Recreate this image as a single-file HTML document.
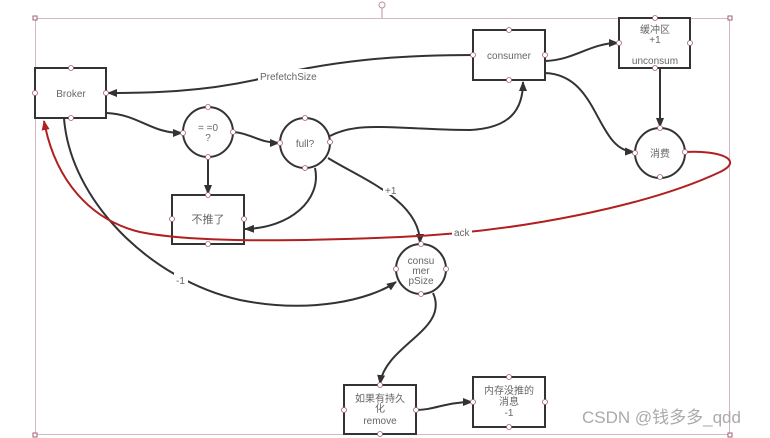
<!DOCTYPE html>
<html><head><meta charset="utf-8"><style>
html,body{margin:0;padding:0;background:#fff;width:770px;height:438px;overflow:hidden}
svg{display:block}
text{font-family:"Liberation Sans","Noto Sans CJK SC",sans-serif;fill:#666;font-size:10px}
</style></head><body>
<svg width="770" height="438" viewBox="0 0 770 438" xmlns="http://www.w3.org/2000/svg">
<defs>
<marker id="a" markerWidth="10" markerHeight="8" refX="9" refY="4" orient="auto" markerUnits="userSpaceOnUse"><path d="M0,0 L10,4 L0,8z" fill="#333"/></marker>
<marker id="r" markerWidth="10" markerHeight="8" refX="9" refY="4" orient="auto" markerUnits="userSpaceOnUse"><path d="M0,0 L10,4 L0,8z" fill="#b02020"/></marker>
</defs>
<rect x="35.5" y="18.5" width="694" height="416" fill="none" stroke="#d8b8c0" stroke-width="1"/>
<line x1="382" y1="8" x2="382" y2="18" stroke="#c09098"/>
<circle cx="382" cy="5" r="3" fill="#fff" stroke="#c09098"/>
<rect x="33" y="16" width="4" height="4" fill="#fff" stroke="#a06070"/>
<rect x="728" y="16" width="4" height="4" fill="#fff" stroke="#a06070"/>
<rect x="33" y="433" width="4" height="4" fill="#fff" stroke="#a06070"/>
<rect x="728" y="433" width="4" height="4" fill="#fff" stroke="#a06070"/>

<g fill="none" stroke="#333" stroke-width="2">
<path d="M473,55 C400,55 330,60 255,80 C200,92 150,93 108,93" marker-end="url(#a)"/>
<path d="M107,113 C140,115 150,133 182,133" marker-end="url(#a)"/>
<path d="M233,132 C250,133 260,143 279,143" marker-end="url(#a)"/>
<path d="M208,157 L208,194" marker-end="url(#a)"/>
<path d="M315,168 C322,200 290,228 245,229" marker-end="url(#a)"/>
<path d="M330,136 C360,120 400,130 470,130 C510,128 523,110 523,82" marker-end="url(#a)"/>
<path d="M328,158 C360,178 420,200 420,243" marker-end="url(#a)"/>
<path d="M64,118 C70,200 150,280 240,300 C310,314 370,300 396,282" marker-end="url(#a)"/>
<path d="M545,61 C575,60 590,43 618,43" marker-end="url(#a)"/>
<path d="M545,73 C600,75 595,150 634,152" marker-end="url(#a)"/>
<path d="M660,68 L660,127" marker-end="url(#a)"/>
<path d="M433,293 C450,330 385,345 380,384" marker-end="url(#a)"/>
<path d="M416,410 C435,410 445,402 472,402" marker-end="url(#a)"/>
</g>
<rect x="258" y="69" width="64" height="12" fill="#fff"/>
<text x="260" y="80">PrefetchSize</text>
<rect x="383" y="183" width="16" height="12" fill="#fff"/>
<text x="385" y="194">+1</text>
<rect x="174" y="273" width="14" height="12" fill="#fff"/>
<text x="176" y="284">-1</text>

<g fill="#fff" stroke="#333" stroke-width="2">
<rect x="35" y="68" width="71" height="50"/>
<circle cx="208" cy="132" r="25"/>
<circle cx="305" cy="143" r="25"/>
<rect x="172" y="195" width="72" height="49"/>
<rect x="473" y="30" width="72" height="50"/>
<rect x="619" y="18" width="71" height="50"/>
<circle cx="660" cy="153" r="25"/>
<circle cx="421" cy="269" r="25"/>
<rect x="344" y="385" width="72" height="49"/>
<rect x="473" y="377" width="72" height="50"/>
</g>
<path d="M685,152 C720,150 745,160 720,172 C650,205 520,232 400,237 C280,242 190,242 140,232 C90,220 55,180 44,121" fill="none" stroke="#b02020" stroke-width="2" marker-end="url(#r)"/>
<rect x="452" y="226" width="20" height="12" fill="#fff"/>
<text x="454" y="236">ack</text>
<g text-anchor="middle">
<text x="71" y="97">Broker</text>
<text x="208" y="131">= =0</text><text x="208" y="141">?</text>
<text x="305" y="147">full?</text>
<text x="208" y="223" style="font-size:11px">不推了</text>
<text x="509" y="59">consumer</text>
<text x="655" y="33">缓冲区</text><text x="655" y="43">+1</text><text x="655" y="64">unconsum</text>
<text x="660" y="157">消费</text>
<text x="421" y="264">consu</text><text x="421" y="274">mer</text><text x="421" y="284">pSize</text>
<text x="380" y="402">如果有持久</text><text x="380" y="412">化</text><text x="380" y="424">remove</text>
<text x="509" y="394">内存没推的</text><text x="509" y="405">消息</text><text x="509" y="416">-1</text>
</g>
<g fill="#fff" stroke="#a06070" stroke-width="0.8">
<circle cx="71" cy="68" r="2.5"/><circle cx="35" cy="93" r="2.5"/><circle cx="106" cy="93" r="2.5"/><circle cx="71" cy="118" r="2.5"/>
<circle cx="208" cy="107" r="2.5"/><circle cx="183" cy="133" r="2.5"/><circle cx="233" cy="132" r="2.5"/><circle cx="208" cy="157" r="2.5"/>
<circle cx="305" cy="118" r="2.5"/><circle cx="280" cy="143" r="2.5"/><circle cx="330" cy="142" r="2.5"/><circle cx="305" cy="168" r="2.5"/>
<circle cx="208" cy="195" r="2.5"/><circle cx="172" cy="219" r="2.5"/><circle cx="244" cy="219" r="2.5"/><circle cx="208" cy="244" r="2.5"/>
<circle cx="509" cy="30" r="2.5"/><circle cx="473" cy="55" r="2.5"/><circle cx="545" cy="55" r="2.5"/><circle cx="509" cy="80" r="2.5"/>
<circle cx="655" cy="18" r="2.5"/><circle cx="619" cy="43" r="2.5"/><circle cx="690" cy="43" r="2.5"/><circle cx="655" cy="68" r="2.5"/>
<circle cx="660" cy="128" r="2.5"/><circle cx="635" cy="153" r="2.5"/><circle cx="685" cy="152" r="2.5"/><circle cx="660" cy="177" r="2.5"/>
<circle cx="421" cy="244" r="2.5"/><circle cx="396" cy="269" r="2.5"/><circle cx="446" cy="269" r="2.5"/><circle cx="421" cy="294" r="2.5"/>
<circle cx="380" cy="385" r="2.5"/><circle cx="344" cy="410" r="2.5"/><circle cx="416" cy="410" r="2.5"/><circle cx="380" cy="434" r="2.5"/>
<circle cx="509" cy="377" r="2.5"/><circle cx="473" cy="402" r="2.5"/><circle cx="545" cy="402" r="2.5"/><circle cx="509" cy="427" r="2.5"/>
</g>
<text x="582" y="423" style="font-size:17px;fill:#aaa">CSDN @钱多多_qdd</text>
</svg>
</body></html>
